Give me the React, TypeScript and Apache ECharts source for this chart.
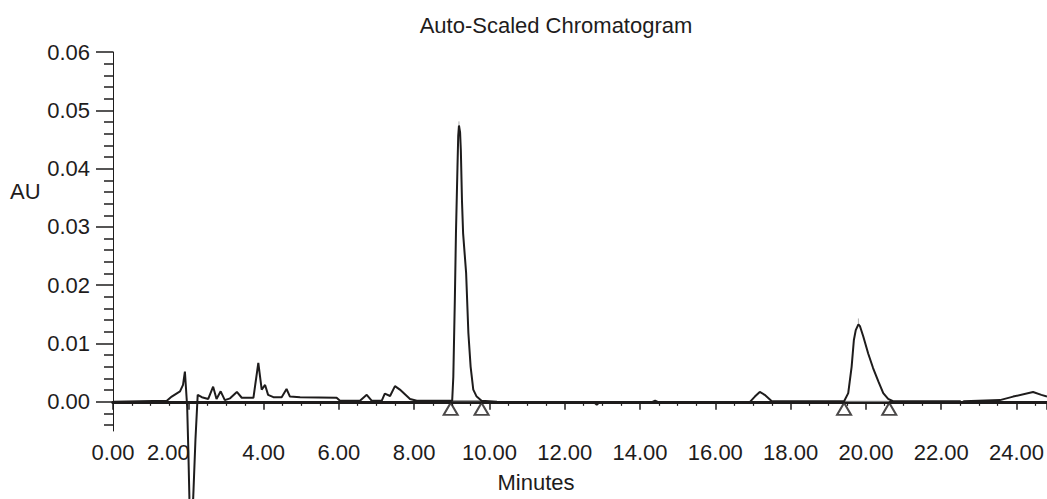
import React, { useEffect, useRef } from "react";
import * as echarts from "echarts";

// Retention time (minutes) and absorbance (AU)
const times = [
  0, 1.43, 1.56, 1.78, 1.86, 1.91, 1.97, 2.0, 2.03, 2.07, 2.13, 2.19, 2.25, 2.36, 2.53, 2.66, 2.75, 2.86,
  2.97, 3.11, 3.29, 3.42, 3.73, 3.86, 3.95, 4.04, 4.12, 4.26, 4.48, 4.61, 4.7, 4.97, 5.94, 6.03, 6.56,
  6.74, 6.87, 7.14, 7.22, 7.36, 7.49, 7.62, 7.89, 8.07, 8.86, 9.01, 9.04, 9.08, 9.11, 9.15, 9.17, 9.19,
  9.22, 9.24, 9.27, 9.3, 9.38, 9.44, 9.5, 9.57, 9.66, 9.79, 10.2, 10.9, 11.0, 12.8, 12.85, 12.9, 14.3,
  14.4, 14.5, 16.92, 17.05, 17.18, 17.31, 17.5, 19.42, 19.53, 19.62, 19.68, 19.73, 19.8, 19.84, 19.93,
  20.06, 20.19, 20.33, 20.46, 20.59, 20.72, 22.5, 22.54, 22.6, 23.56, 23.91, 24.44, 24.66, 24.81,
];
const absorbance = [
  0, 0.0002, 0.0009, 0.0018, 0.0029, 0.0052, -0.0008, -0.008, -0.0166, -0.0176, -0.0166, -0.0065, 0.0012,
  0.0008, 0.0005, 0.0026, 0.0005, 0.0018, 0.0003, 0.0006, 0.0017, 0.0007, 0.0007, 0.0067, 0.0021, 0.0029,
  0.0012, 0.0008, 0.0008, 0.0022, 0.0009, 0.0008, 0.0007, 0.0002, 0.0002, 0.0012, 0.0002, 0.0002, 0.0014,
  0.001, 0.0027, 0.0021, 0.0005, 0.0002, 0.0002, 0.0002, 0.0043, 0.0174, 0.0289, 0.0402, 0.0456, 0.0474,
  0.0462, 0.0431, 0.0345, 0.0289, 0.0221, 0.0118, 0.006, 0.0021, 0.0009, 0.0002, 0.0, -0.0001, -0.0002,
  -0.0002, -0.0005, -0.0002, -0.0001, 0.0002, -0.0001, 0.0, 0.0009, 0.0017, 0.0012, 0.0001, 0.0001,
  0.0015, 0.006, 0.0106, 0.0123, 0.0133, 0.013, 0.0112, 0.0083, 0.0058, 0.0035, 0.0015, 0.0005, 0.0001,
  0.0001, -0.0002, 0.0001, 0.0003, 0.0009, 0.0017, 0.0012, 0.0009,
];

// Integration markers (peak start / end)
const markerTimes = [8.97, 9.79, 19.42, 20.62];
const markerValues = [0, 0, 0, 0];

// Integration baselines drawn between markers
const baseline1 = [[8.97, 0.0002], [9.79, 0.0002]];
const baseline2 = [[19.42, 0.0001], [20.62, 0.0001]];
// Apex indicators above peaks
const apex1 = [[9.19, 0.0474], [9.19, 0.0481]];
const apex2 = [[19.8, 0.0133], [19.8, 0.0143]];

const yMajorTicks = [0, 0.01, 0.02, 0.03, 0.04, 0.05, 0.06];
const yMinorTicks = [
  -0.004, -0.002, 0.002, 0.004, 0.006, 0.008, 0.012, 0.014, 0.016, 0.018, 0.022, 0.024, 0.026, 0.028,
  0.032, 0.034, 0.036, 0.038, 0.042, 0.044, 0.046, 0.048, 0.052, 0.054, 0.056, 0.058,
];

const FONT = "'Liberation Sans', Arial, sans-serif";
const INK = "#1e1c1c";
const FS = 22;

export default function App() {
  const ref = useRef<HTMLDivElement>(null);

  useEffect(() => {
    if (!ref.current) return;
    const chart = echarts.init(ref.current, null, { renderer: "svg" });
    const lineData = times.map((t, i) => [t, absorbance[i]]);
    const markerData = markerTimes.map((t, i) => [t, markerValues[i]]);

    chart.setOption({
      animation: false,
      backgroundColor: "#ffffff",
      grid: { left: 113, right: 0, top: 52, bottom: 68, outerBoundsMode: "none" },
      xAxis: [
        {
          type: "value",
          min: 0,
          max: 24.81,
          interval: 2,
          position: "bottom",
          axisLine: { show: true, lineStyle: { color: INK, width: 3 } },
          axisTick: { show: true, length: 8, lineStyle: { color: INK, width: 1.5 } },
          minorTick: { show: true, splitNumber: 4, length: 4, lineStyle: { color: INK, width: 1.2 } },
          splitLine: { show: false },
          minorSplitLine: { show: false },
          axisLabel: {
            margin: 10,
            color: INK,
            fontSize: FS,
            fontFamily: FONT,
            showMaxLabel: false,
            formatter: (v: number) => (v === 2 ? "{r|" + v.toFixed(2) + "}" : v.toFixed(2)),
            rich: { r: { padding: [0, 40, 0, 0], fontSize: FS, fontFamily: FONT, color: INK } },
          },
        },
        {
          type: "value",
          min: 0,
          max: 24.81,
          position: "top",
          axisLine: { show: true, lineStyle: { color: INK, width: 3 } },
          axisTick: { show: false },
          axisLabel: { show: false },
          splitLine: { show: false },
        },
      ],
      yAxis: [
        {
          type: "value",
          min: -0.005,
          max: 0.06,
          position: "left",
          axisLine: { show: true, lineStyle: { color: INK, width: 1 } },
          axisTick: { show: true, customValues: yMajorTicks, length: 17, lineStyle: { color: INK, width: 1.5 } },
          axisLabel: {
            customValues: yMajorTicks,
            margin: 23,
            color: INK,
            fontSize: FS,
            fontFamily: FONT,
            formatter: (v: number) => v.toFixed(2),
          },
          splitLine: { show: false },
        },
        {
          type: "value",
          min: -0.005,
          max: 0.06,
          position: "left",
          axisLine: { show: false },
          axisTick: { show: true, customValues: yMinorTicks, length: 9, lineStyle: { color: INK, width: 1.5 } },
          axisLabel: { show: false },
          splitLine: { show: false },
        },
      ],
      graphic: [
        {
          type: "text",
          x: 556,
          y: 25,
          style: { text: "Auto-Scaled Chromatogram", fontSize: FS, fontFamily: FONT, fill: INK, align: "center", verticalAlign: "middle" },
        },
        {
          type: "text",
          x: 10,
          y: 191,
          style: { text: "AU", fontSize: FS, fontFamily: FONT, fill: INK, align: "left", verticalAlign: "middle" },
        },
        {
          type: "text",
          x: 536,
          y: 482,
          style: { text: "Minutes", fontSize: FS, fontFamily: FONT, fill: INK, align: "center", verticalAlign: "middle" },
        },
      ],
      series: [
        {
          type: "line",
          data: baseline1,
          showSymbol: false,
          silent: true,
          lineStyle: { color: "#9a9a9a", width: 1.2 },
          z: 1,
        },
        {
          type: "line",
          data: baseline2,
          showSymbol: false,
          silent: true,
          lineStyle: { color: "#9a9a9a", width: 1.2 },
          z: 1,
        },
        {
          type: "line",
          data: apex1,
          showSymbol: false,
          silent: true,
          lineStyle: { color: "#b0b0b0", width: 1 },
          z: 1,
        },
        {
          type: "line",
          data: apex2,
          showSymbol: false,
          silent: true,
          lineStyle: { color: "#b0b0b0", width: 1 },
          z: 1,
        },
        {
          type: "line",
          data: lineData,
          showSymbol: false,
          clip: false,
          smooth: false,
          lineStyle: { color: INK, width: 2 },
          z: 3,
        },
        {
          type: "scatter",
          data: markerData,
          symbol: "triangle",
          symbolSize: [14, 12],
          symbolOffset: [0, 7],
          itemStyle: { color: "#ffffff", borderColor: INK, borderWidth: 2 },
          z: 4,
        },
      ],
    });

    return () => chart.dispose();
  }, []);

  return (
    <div
      ref={ref}
      style={{ position: "absolute", left: 0, top: 0, width: 1047, height: 499, background: "#fff" }}
    />
  );
}
